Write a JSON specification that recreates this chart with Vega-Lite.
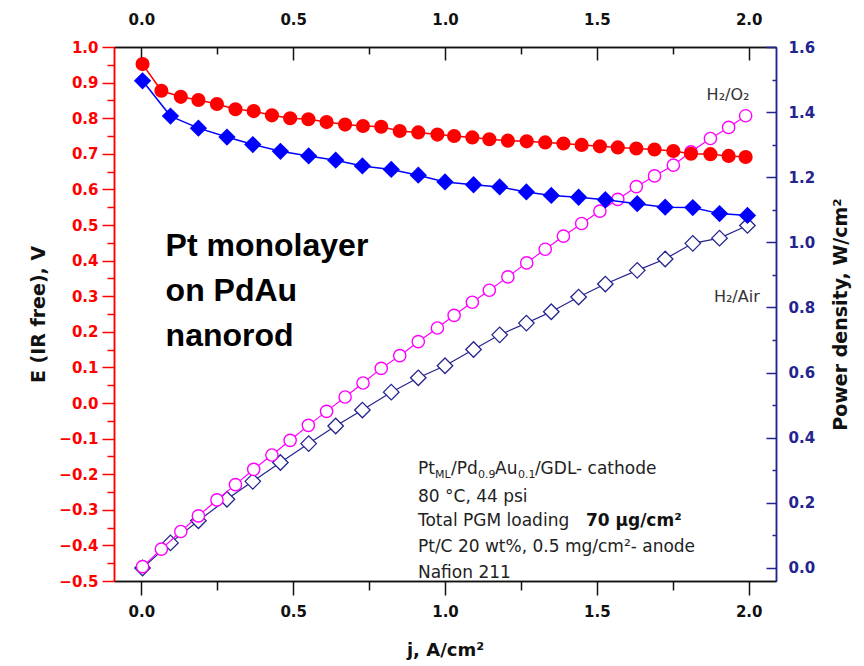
{
  "$schema": "https://vega.github.io/schema/vega-lite/v6.json",
  "width": 662,
  "height": 534,
  "autosize": "none",
  "padding": {"left": 114, "top": 47, "right": 88, "bottom": 85},
  "background": "white",
  "config": {
    "view": {"stroke": null},
    "axis": {"grid": false, "labelFlush": false, "labelOverlap": false, "labelBound": false, "tickWidth": 1.5, "domainWidth": 1.5, "labelFont": "DejaVu Sans", "labelFontWeight": "bold", "labelFontSize": 15, "titleFont": "DejaVu Sans", "titleFontWeight": "bold", "titleFontSize": 19, "titleColor": "#111111"}
  },
  "datasets": {
    "o2": [
      {"j": 0.004, "E": 0.952, "P": 0.004},
      {"j": 0.066, "E": 0.877, "P": 0.058},
      {"j": 0.13, "E": 0.86, "P": 0.112},
      {"j": 0.188, "E": 0.851, "P": 0.16},
      {"j": 0.249, "E": 0.84, "P": 0.209},
      {"j": 0.31, "E": 0.825, "P": 0.256},
      {"j": 0.37, "E": 0.82, "P": 0.303},
      {"j": 0.43, "E": 0.808, "P": 0.347},
      {"j": 0.49, "E": 0.8, "P": 0.392},
      {"j": 0.55, "E": 0.797, "P": 0.438},
      {"j": 0.61, "E": 0.789, "P": 0.481},
      {"j": 0.671, "E": 0.782, "P": 0.525},
      {"j": 0.73, "E": 0.778, "P": 0.568},
      {"j": 0.79, "E": 0.776, "P": 0.613},
      {"j": 0.851, "E": 0.764, "P": 0.652},
      {"j": 0.912, "E": 0.76, "P": 0.695},
      {"j": 0.975, "E": 0.754, "P": 0.737},
      {"j": 1.03, "E": 0.75, "P": 0.776},
      {"j": 1.09, "E": 0.746, "P": 0.816},
      {"j": 1.146, "E": 0.741, "P": 0.853},
      {"j": 1.207, "E": 0.737, "P": 0.894},
      {"j": 1.269, "E": 0.735, "P": 0.937},
      {"j": 1.33, "E": 0.732, "P": 0.979},
      {"j": 1.39, "E": 0.729, "P": 1.019},
      {"j": 1.45, "E": 0.725, "P": 1.058},
      {"j": 1.51, "E": 0.721, "P": 1.096},
      {"j": 1.569, "E": 0.718, "P": 1.132},
      {"j": 1.63, "E": 0.715, "P": 1.171},
      {"j": 1.69, "E": 0.712, "P": 1.204},
      {"j": 1.752, "E": 0.708, "P": 1.237},
      {"j": 1.81, "E": 0.7, "P": 1.278},
      {"j": 1.874, "E": 0.699, "P": 1.319},
      {"j": 1.934, "E": 0.694, "P": 1.353},
      {"j": 1.99, "E": 0.691, "P": 1.389}
    ],
    "air": [
      {"j": 0.004, "E": 0.905, "P": 0.0},
      {"j": 0.096, "E": 0.806, "P": 0.077},
      {"j": 0.188, "E": 0.772, "P": 0.145},
      {"j": 0.282, "E": 0.747, "P": 0.211},
      {"j": 0.367, "E": 0.726, "P": 0.266},
      {"j": 0.458, "E": 0.707, "P": 0.324},
      {"j": 0.551, "E": 0.694, "P": 0.382},
      {"j": 0.64, "E": 0.682, "P": 0.436},
      {"j": 0.728, "E": 0.666, "P": 0.485},
      {"j": 0.823, "E": 0.656, "P": 0.54},
      {"j": 0.912, "E": 0.64, "P": 0.584},
      {"j": 1.0, "E": 0.621, "P": 0.621},
      {"j": 1.094, "E": 0.613, "P": 0.671},
      {"j": 1.18, "E": 0.607, "P": 0.716},
      {"j": 1.268, "E": 0.593, "P": 0.752},
      {"j": 1.35, "E": 0.583, "P": 0.787},
      {"j": 1.44, "E": 0.578, "P": 0.832},
      {"j": 1.528, "E": 0.571, "P": 0.872},
      {"j": 1.633, "E": 0.56, "P": 0.914},
      {"j": 1.725, "E": 0.55, "P": 0.949},
      {"j": 1.816, "E": 0.549, "P": 0.997},
      {"j": 1.904, "E": 0.532, "P": 1.013},
      {"j": 1.996, "E": 0.527, "P": 1.052}
    ],
    "big": [
      {"j": 0.08, "E": 0.442, "t": "Pt monolayer"},
      {"j": 0.08, "E": 0.316, "t": "on PdAu"},
      {"j": 0.08, "E": 0.189, "t": "nanorod"}
    ],
    "notes": [
      {"j": 0.911, "E": -0.185, "t": "Pt"},
      {"j": 1.02, "E": -0.185, "t": "/Pd"},
      {"j": 1.165, "E": -0.185, "t": "Au"},
      {"j": 1.296, "E": -0.185, "t": "/GDL- cathode"},
      {"j": 0.911, "E": -0.264, "t": "80 °C, 44 psi"},
      {"j": 0.911, "E": -0.331, "t": "Total PGM loading"},
      {"j": 0.911, "E": -0.404, "t": "Pt/C 20 wt%, 0.5 mg/cm²- anode"},
      {"j": 0.911, "E": -0.478, "t": "Nafion 211"}
    ],
    "gas": [
      {"j": 1.932, "E": 0.865, "t": "H₂/O₂"},
      {"j": 1.961, "E": 0.298, "t": "H₂/Air"}
    ],
    "subs": [
      {"j": 0.967, "E": -0.185, "t": "ML"},
      {"j": 1.109, "E": -0.185, "t": "0.9"},
      {"j": 1.24, "E": -0.185, "t": "0.1"}
    ],
    "bold": [
      {"j": 1.464, "E": -0.331, "t": "70 μg/cm²"}
    ]
  },
  "resolve": {"scale": {"x": "independent", "y": "independent"}, "axis": {"x": "independent", "y": "independent"}},
  "layer": [
    {
      "data": {"name": "air"},
      "mark": {"type": "line", "color": "#24248f", "strokeWidth": 1.2},
      "encoding": {
        "x": {"field": "j", "type": "quantitative", "scale": {"domain": [-0.09, 2.09], "nice": false, "zero": false},
          "axis": {"orient": "top", "values": [0.25, 0.75, 1.25, 1.75], "labels": false, "tickSize": -7, "tickColor": "#111111", "domainColor": "#111111", "title": null}},
        "y": {"field": "P", "type": "quantitative", "scale": {"domain": [-0.04, 1.6], "nice": false, "zero": false},
          "axis": {"orient": "right", "values": [0.1, 0.3, 0.5, 0.7, 0.9, 1.1, 1.3, 1.5], "labels": false, "tickSize": -4, "tickColor": "#24248f", "domainColor": "#24248f", "title": null}}
      }
    },
    {
      "data": {"name": "air"},
      "mark": {"type": "point", "shape": "diamond", "filled": true, "fill": "white", "stroke": "#24248f", "strokeWidth": 1.3, "size": 240, "opacity": 1},
      "encoding": {
        "x": {"field": "j", "type": "quantitative", "scale": {"domain": [-0.09, 2.09], "nice": false, "zero": false}, "axis": null},
        "y": {"field": "P", "type": "quantitative", "scale": {"domain": [-0.04, 1.6], "nice": false, "zero": false}, "axis": null}
      }
    },
    {
      "data": {"name": "o2"},
      "mark": {"type": "line", "color": "#ff00ff", "strokeWidth": 1.2},
      "encoding": {
        "x": {"field": "j", "type": "quantitative", "scale": {"domain": [-0.09, 2.09], "nice": false, "zero": false},
          "axis": {"orient": "top", "values": [0, 0.5, 1, 1.5, 2], "format": ".1f", "tickSize": -13, "labelPadding": 33, "tickColor": "#111111", "domainColor": "#111111", "labelColor": "#111111", "title": null}},
        "y": {"field": "P", "type": "quantitative", "scale": {"domain": [-0.04, 1.6], "nice": false, "zero": false},
          "axis": {"orient": "right", "values": [0, 0.2, 0.4, 0.6, 0.8, 1.0, 1.2, 1.4, 1.6], "format": ".1f", "tickSize": -10, "labelPadding": 22, "tickColor": "#24248f", "domainColor": "#24248f", "labelColor": "#24248f", "title": "Power density, W/cm²", "titleAngle": 270, "titlePadding": 36}}
      }
    },
    {
      "data": {"name": "o2"},
      "mark": {"type": "point", "shape": "circle", "filled": true, "fill": "white", "stroke": "#ff00ff", "strokeWidth": 1.4, "size": 150, "opacity": 1},
      "encoding": {
        "x": {"field": "j", "type": "quantitative", "scale": {"domain": [-0.09, 2.09], "nice": false, "zero": false}, "axis": null},
        "y": {"field": "P", "type": "quantitative", "scale": {"domain": [-0.04, 1.6], "nice": false, "zero": false}, "axis": null}
      }
    },
    {
      "data": {"name": "air"},
      "mark": {"type": "line", "color": "#0000ff", "strokeWidth": 1.5},
      "encoding": {
        "x": {"field": "j", "type": "quantitative", "scale": {"domain": [-0.09, 2.09], "nice": false, "zero": false},
          "axis": {"orient": "bottom", "values": [0.25, 0.75, 1.25, 1.75], "labels": false, "tickSize": 9, "tickColor": "#111111", "domainColor": "#111111", "title": null}},
        "y": {"field": "E", "type": "quantitative", "scale": {"domain": [-0.5, 1.0], "nice": false, "zero": false},
          "axis": {"orient": "left", "values": [-0.45, -0.35, -0.25, -0.15, -0.05, 0.05, 0.15, 0.25, 0.35, 0.45, 0.55, 0.65, 0.75, 0.85, 0.95], "labels": false, "tickSize": 7, "tickColor": "#ff0000", "domainColor": "#ff0000", "title": null}}
      }
    },
    {
      "data": {"name": "air"},
      "mark": {"type": "point", "shape": "diamond", "filled": true, "color": "#0000ff", "size": 300, "opacity": 1},
      "encoding": {
        "x": {"field": "j", "type": "quantitative", "scale": {"domain": [-0.09, 2.09], "nice": false, "zero": false}, "axis": null},
        "y": {"field": "E", "type": "quantitative", "scale": {"domain": [-0.5, 1.0], "nice": false, "zero": false}, "axis": null}
      }
    },
    {
      "data": {"name": "o2"},
      "mark": {"type": "line", "color": "#ff0000", "strokeWidth": 1.5},
      "encoding": {
        "x": {"field": "j", "type": "quantitative", "scale": {"domain": [-0.09, 2.09], "nice": false, "zero": false},
          "axis": {"orient": "bottom", "values": [0, 0.5, 1, 1.5, 2], "format": ".1f", "tickSize": 14, "labelPadding": 9, "tickColor": "#111111", "domainColor": "#111111", "labelColor": "#111111", "title": "j, A/cm²", "titleFontSize": 18, "titlePadding": 22}},
        "y": {"field": "E", "type": "quantitative", "scale": {"domain": [-0.5, 1.0], "nice": false, "zero": false},
          "axis": {"orient": "left", "values": [-0.5, -0.4, -0.3, -0.2, -0.1, 0, 0.1, 0.2, 0.3, 0.4, 0.5, 0.6, 0.7, 0.8, 0.9, 1.0], "format": ".1f", "tickSize": 12, "labelPadding": 4, "tickColor": "#ff0000", "domainColor": "#ff0000", "labelColor": "#ff0000", "title": "E (IR free), V", "titlePadding": 10}}
      }
    },
    {
      "data": {"name": "o2"},
      "mark": {"type": "point", "shape": "circle", "filled": true, "color": "#ff0000", "size": 200, "opacity": 1},
      "encoding": {
        "x": {"field": "j", "type": "quantitative", "scale": {"domain": [-0.09, 2.09], "nice": false, "zero": false}, "axis": null},
        "y": {"field": "E", "type": "quantitative", "scale": {"domain": [-0.5, 1.0], "nice": false, "zero": false}, "axis": null}
      }
    },
    {
      "data": {"name": "big"},
      "mark": {"type": "text", "align": "left", "baseline": "middle", "font": "Liberation Sans", "fontWeight": "bold", "fontSize": 32, "color": "#000000"},
      "encoding": {
        "x": {"field": "j", "type": "quantitative", "scale": {"domain": [-0.09, 2.09], "nice": false, "zero": false}, "axis": null},
        "y": {"field": "E", "type": "quantitative", "scale": {"domain": [-0.5, 1.0], "nice": false, "zero": false}, "axis": null},
        "text": {"field": "t"}
      }
    },
    {
      "data": {"name": "notes"},
      "mark": {"type": "text", "align": "left", "baseline": "middle", "font": "DejaVu Sans", "fontSize": 17, "color": "#222222"},
      "encoding": {
        "x": {"field": "j", "type": "quantitative", "scale": {"domain": [-0.09, 2.09], "nice": false, "zero": false}, "axis": null},
        "y": {"field": "E", "type": "quantitative", "scale": {"domain": [-0.5, 1.0], "nice": false, "zero": false}, "axis": null},
        "text": {"field": "t"}
      }
    },
    {
      "data": {"name": "gas"},
      "mark": {"type": "text", "align": "center", "baseline": "middle", "font": "DejaVu Sans", "fontSize": 16, "color": "#333333"},
      "encoding": {
        "x": {"field": "j", "type": "quantitative", "scale": {"domain": [-0.09, 2.09], "nice": false, "zero": false}, "axis": null},
        "y": {"field": "E", "type": "quantitative", "scale": {"domain": [-0.5, 1.0], "nice": false, "zero": false}, "axis": null},
        "text": {"field": "t"}
      }
    },
    {
      "data": {"name": "subs"},
      "mark": {"type": "text", "align": "left", "baseline": "middle", "font": "DejaVu Sans", "fontSize": 11, "dy": 6, "color": "#222222"},
      "encoding": {
        "x": {"field": "j", "type": "quantitative", "scale": {"domain": [-0.09, 2.09], "nice": false, "zero": false}, "axis": null},
        "y": {"field": "E", "type": "quantitative", "scale": {"domain": [-0.5, 1.0], "nice": false, "zero": false}, "axis": null},
        "text": {"field": "t"}
      }
    },
    {
      "data": {"name": "bold"},
      "mark": {"type": "text", "align": "left", "baseline": "middle", "font": "DejaVu Sans", "fontWeight": "bold", "fontSize": 17, "color": "#111111"},
      "encoding": {
        "x": {"field": "j", "type": "quantitative", "scale": {"domain": [-0.09, 2.09], "nice": false, "zero": false}, "axis": null},
        "y": {"field": "E", "type": "quantitative", "scale": {"domain": [-0.5, 1.0], "nice": false, "zero": false}, "axis": null},
        "text": {"field": "t"}
      }
    }
  ]
}
